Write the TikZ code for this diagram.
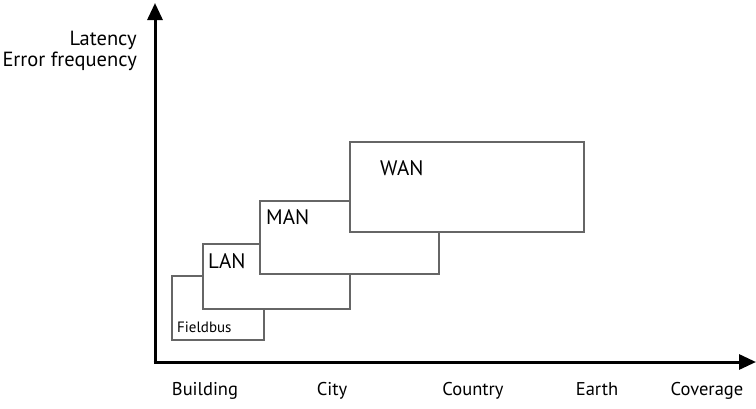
\documentclass[tikz,border=0pt]{standalone}
\usepackage{fontspec}
\setmainfont{PT Sans}
\usetikzlibrary{arrows.meta}

\tikzset{
	net/.style={draw=black!60, line width=1.2pt, fill=white},
	axis/.style={line width=3pt, -{Triangle[length=17pt,width=15pt]}},
	tag/.style={inner sep=0pt, font=\fontsize{18.5}{21.5}\selectfont},
}

\begin{document}
\begin{tikzpicture}[x=1pt,y=-1pt]
		\useasboundingbox (0,0) rectangle (756,408);
		% axes
		\coordinate (O) at (155,362);
		\coordinate (Top) at (155,3);
		\coordinate (Right) at (756,362);
		\draw [axis] ([yshift=-1.5pt]O) -- (Top);
		\draw [axis] ([xshift=-1.5pt]O) -- (Right);
		\node [tag, align=right, anchor=east, font=\fontsize{20.5}{21.5}\selectfont] (yname) at (137,51) {Latency\\Error frequency};
		% coverage classes, all on one baseline
		\node [tag, anchor=base] (building) at (205,395) {Building};
		\node [tag, anchor=base] (city) at (332,395) {City};
		\node [tag, anchor=base] (country) at (473,395) {Country};
		\node [tag, anchor=base] (earth) at (597,395) {Earth};
		\node [tag, anchor=base] (coverage) at (707,395) {Coverage};
		% networks, each one covering the one before
		\draw [net] (172,276) rectangle (264,340);
		\node [tag, anchor=base west, font=\fontsize{15}{18}\selectfont] (fieldbus) at (177,332) {Fieldbus};
		\draw [net] (203,244) rectangle (350,309);
		\node [tag, anchor=base west, font=\fontsize{21}{24}\selectfont] (lan) at (208,268) {LAN};
		\draw [net] (260,201) rectangle (439,274);
		\node [tag, anchor=base west, font=\fontsize{21}{24}\selectfont] (man) at (266,224) {MAN};
		\draw [net] (350,142) rectangle (584,232);
		\node [tag, anchor=base west, font=\fontsize{21}{24}\selectfont] (wan) at (380,175) {WAN};
	\end{tikzpicture}
\end{document}
